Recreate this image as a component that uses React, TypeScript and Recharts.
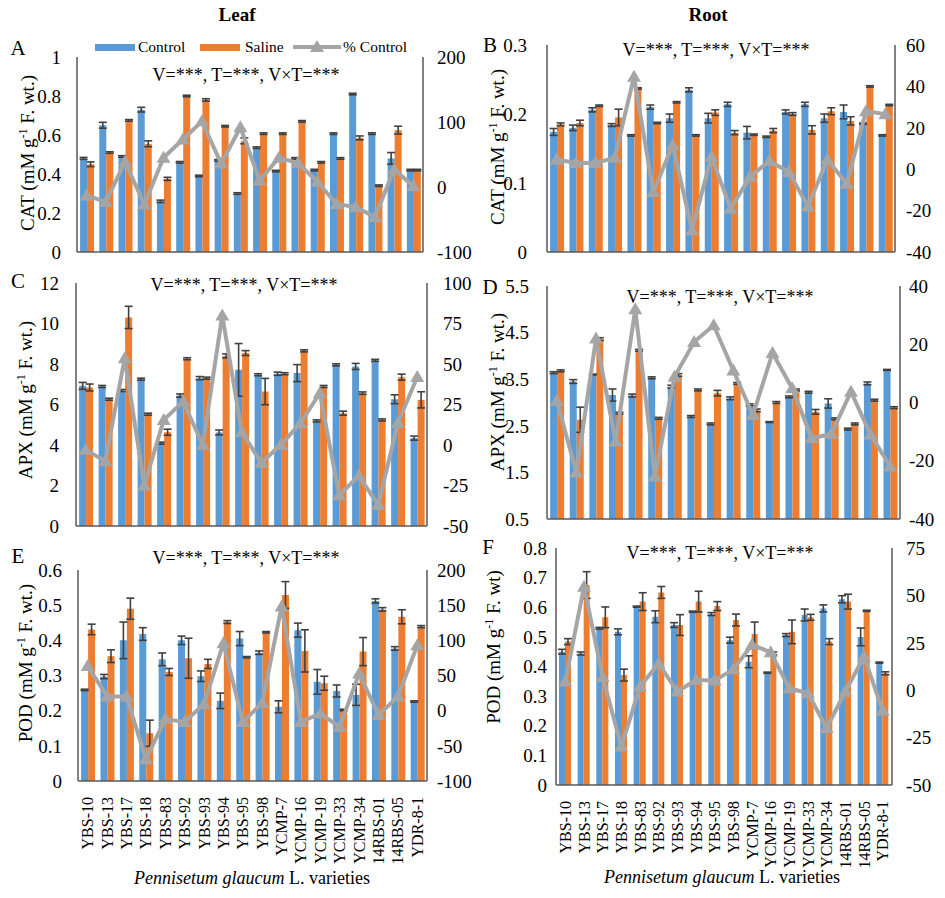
import React from "react";
import { ComposedChart, Bar, Line, XAxis, YAxis, ErrorBar } from "recharts";

const FONT = "'Liberation Serif', 'Times New Roman', serif";
const BLUE = "#5B9BD5";
const ORANGE = "#ED7D31";
const GRAY = "#A5A5A5";
const AXIS = "#595959";

const varieties = [
  "YBS-10", "YBS-13", "YBS-17", "YBS-18", "YBS-83", "YBS-92", "YBS-93", "YBS-94", "YBS-95",
  "YBS-98", "YCMP-7", "YCMP-16", "YCMP-19", "YCMP-33", "YCMP-34", "14RBS-01", "14RBS-05", "YDR-8-1",
];

// A - CAT leaf
const catLeafControl = [0.48, 0.65, 0.49, 0.73, 0.26, 0.46, 0.39, 0.47, 0.3, 0.535, 0.415, 0.48, 0.42, 0.607, 0.81, 0.607, 0.48, 0.42];
const catLeafSaline = [0.45, 0.51, 0.675, 0.555, 0.375, 0.8, 0.78, 0.645, 0.57, 0.607, 0.607, 0.67, 0.46, 0.48, 0.585, 0.34, 0.625, 0.42];
const catLeafControlErr = [0.005, 0.015, 0.004, 0.012, 0.006, 0.004, 0.004, 0.004, 0.004, 0.004, 0.004, 0.004, 0.004, 0.004, 0.004, 0.004, 0.03, 0.004];
const catLeafSalineErr = [0.012, 0.004, 0.004, 0.015, 0.008, 0.004, 0.006, 0.004, 0.015, 0.004, 0.004, 0.004, 0.004, 0.004, 0.01, 0.004, 0.02, 0.004];
const catLeafPct = [-13, -23, 39, -27, 45, 73, 101, 36, 92, 10, 45, 37, 8, -26, -31, -46, 27, 1];

// B - CAT root
const catRootControl = [0.174, 0.18, 0.206, 0.184, 0.169, 0.21, 0.194, 0.235, 0.194, 0.214, 0.173, 0.167, 0.203, 0.214, 0.194, 0.203, 0.186, 0.169];
const catRootSaline = [0.185, 0.187, 0.212, 0.195, 0.237, 0.187, 0.217, 0.169, 0.202, 0.173, 0.17, 0.176, 0.2, 0.177, 0.204, 0.19, 0.24, 0.213];
const catRootControlErr = [0.005, 0.004, 0.003, 0.002, 0.001, 0.003, 0.006, 0.003, 0.007, 0.003, 0.009, 0.001, 0.003, 0.003, 0.006, 0.01, 0.001, 0.001];
const catRootSalineErr = [0.002, 0.004, 0.001, 0.012, 0.001, 0.001, 0.001, 0.001, 0.004, 0.003, 0.001, 0.003, 0.002, 0.006, 0.005, 0.006, 0.001, 0.001];
const catRootPct = [4.7, 3, 3, 5.5, 44.7, -11, 11.6, -29.5, 6, -19, -3.7, 4, -1.3, -18, 4.7, -7, 28, 26.6];

// C - APX leaf
const apxLeafControl = [6.92, 6.89, 6.69, 7.25, 4.09, 6.44, 7.3, 4.62, 7.71, 7.47, 7.52, 7.55, 5.19, 7.96, 7.88, 8.18, 6.26, 4.34];
const apxLeafSaline = [6.84, 6.26, 10.3, 5.52, 4.63, 8.26, 7.3, 8.4, 8.54, 6.64, 7.52, 8.65, 6.89, 5.57, 6.56, 5.24, 7.35, 6.23];
const apxLeafControlErr = [0.17, 0.05, 0.05, 0.05, 0.05, 0.08, 0.08, 0.12, 1.3, 0.05, 0.08, 0.42, 0.05, 0.05, 0.15, 0.05, 0.22, 0.1];
const apxLeafSalineErr = [0.17, 0.05, 0.55, 0.05, 0.15, 0.05, 0.05, 0.1, 0.12, 0.65, 0.05, 0.05, 0.05, 0.1, 0.06, 0.05, 0.15, 0.4];
const apxLeafPct = [-3, -10, 53.6, -25, 15.5, 26.8, 0, 80, 8, -11, 0, 13.4, 32, -31, -19, -37, 13.4, 42];

// D - APX root
const apxRootControl = [3.64, 3.45, 3.6, 3.16, 3.15, 3.53, 3.34, 2.7, 2.54, 3.09, 2.95, 2.58, 3.12, 3.22, 2.98, 2.43, 3.41, 3.7];
const apxRootSaline = [3.68, 2.63, 4.36, 2.77, 4.12, 2.66, 3.59, 3.27, 3.2, 3.41, 2.83, 3.0, 3.27, 2.8, 2.65, 2.54, 3.05, 2.89];
const apxRootControlErr = [0.02, 0.04, 0.01, 0.13, 0.03, 0.02, 0.03, 0.02, 0.02, 0.03, 0.02, 0.01, 0.02, 0.02, 0.1, 0.02, 0.03, 0.01];
const apxRootSalineErr = [0.02, 0.27, 0.03, 0.02, 0.02, 0.02, 0.03, 0.02, 0.06, 0.02, 0.03, 0.02, 0.02, 0.05, 0.02, 0.02, 0.02, 0.02];
const apxRootPct = [0.5, -24, 22, -13.4, 32, -25.4, 8.8, 20.8, 26.5, 11, -4.3, 17, 4.9, -12.3, -10.8, 3.7, -11, -22];

// E - POD leaf
const podLeafControl = [0.259, 0.297, 0.4, 0.418, 0.346, 0.4, 0.298, 0.228, 0.405, 0.365, 0.211, 0.429, 0.282, 0.256, 0.245, 0.512, 0.377, 0.226];
const podLeafSaline = [0.431, 0.355, 0.49, 0.136, 0.31, 0.349, 0.333, 0.452, 0.352, 0.423, 0.529, 0.37, 0.278, 0.202, 0.368, 0.488, 0.467, 0.439];
const podLeafControlErr = [0.002, 0.006, 0.052, 0.018, 0.018, 0.012, 0.015, 0.022, 0.02, 0.005, 0.017, 0.02, 0.035, 0.017, 0.03, 0.006, 0.005, 0.002];
const podLeafSalineErr = [0.015, 0.018, 0.03, 0.037, 0.01, 0.057, 0.013, 0.004, 0.002, 0.002, 0.038, 0.06, 0.02, 0.002, 0.04, 0.005, 0.02, 0.003];
const podLeafPct = [63.5, 20, 20, -69, -12, -16, 9.5, 96, -16, 11, 148, -16, -4, -23, 53, -6, 20, 93];

// F - POD root
const podRootControl = [0.45, 0.444, 0.529, 0.517, 0.602, 0.568, 0.54, 0.585, 0.577, 0.489, 0.416, 0.379, 0.506, 0.574, 0.596, 0.627, 0.5, 0.413];
const podRootSaline = [0.484, 0.675, 0.566, 0.371, 0.619, 0.65, 0.54, 0.619, 0.604, 0.557, 0.51, 0.444, 0.517, 0.566, 0.484, 0.619, 0.588, 0.377];
const podRootControlErr = [0.008, 0.005, 0.003, 0.01, 0.002, 0.02, 0.008, 0.002, 0.005, 0.01, 0.02, 0.002, 0.005, 0.02, 0.012, 0.012, 0.03, 0.002];
const podRootSalineErr = [0.01, 0.045, 0.035, 0.02, 0.03, 0.02, 0.035, 0.035, 0.015, 0.02, 0.04, 0.005, 0.04, 0.01, 0.01, 0.025, 0.002, 0.005];
const podRootPct = [4.6, 54.6, 7, -29.7, 2, 14, -0.7, 5.4, 5.1, 11, 24, 20, 1, -1.6, -20, -0.7, 17.7, -10.7];

function buildRows(control: number[], saline: number[], cErr: number[], sErr: number[], pct: number[]) {
  return varieties.map((name, i) => ({
    name,
    control: control[i],
    saline: saline[i],
    cErr: cErr[i],
    sErr: sErr[i],
    pct: pct[i],
  }));
}

const Triangle = (props: any) => {
  const { cx, cy, index } = props;
  if (cx == null || cy == null) return <g key={index} />;
  return (
    <polygon
      key={index}
      points={`${cx},${cy - 7} ${cx - 7},${cy + 5} ${cx + 7},${cy + 5}`}
      fill={GRAY}
    />
  );
};

const VerticalTick = (props: any) => {
  const { x, y, payload } = props;
  const ty = y + 8;
  return (
    <text
      x={x}
      y={ty}
      transform={`rotate(-90, ${x}, ${ty})`}
      textAnchor="end"
      dominantBaseline="central"
      fontSize={16}
      fontFamily={FONT}
      fill="#000"
    >
      {payload.value}
    </text>
  );
};

interface PanelProps {
  rows: any[];
  x0: number;
  y0: number;
  x1: number;
  y1: number;
  leftDomain: [number, number];
  leftTicks: number[];
  rightDomain: [number, number];
  rightTicks: number[];
  leftGap: number;
  rightGap: number;
  showX?: boolean;
}

function Panel({ rows, x0, y0, x1, y1, leftDomain, leftTicks, rightDomain, rightTicks, leftGap, rightGap, showX }: PanelProps) {
  const WL = 70;
  const WR = 55;
  const MT = 14;
  const hX = showX ? 95 : 14;
  const W = x1 - x0 + WL + WR;
  const H = y1 - y0 + MT + hX;
  const tickStyle = { fontSize: 19, fontFamily: FONT, fill: "#000" };
  return (
    <div style={{ position: "absolute", left: x0 - WL, top: y0 - MT }}>
      <ComposedChart
        width={W}
        height={H}
        data={rows}
        margin={{ top: MT, right: 0, left: 0, bottom: 0 }}
        barCategoryGap="16%"
        barGap={0}
        style={{ fontFamily: FONT }}
      >
        <XAxis
          dataKey="name"
          height={hX}
          interval={0}
          axisLine={{ stroke: AXIS, strokeWidth: 1.5 }}
          tickLine={false}
          tick={showX ? <VerticalTick /> : false}
        />
        <YAxis
          yAxisId="left"
          width={WL}
          domain={leftDomain}
          ticks={leftTicks}
          interval={0}
          allowDataOverflow
          axisLine={{ stroke: AXIS, strokeWidth: 1.5 }}
          tickLine={false}
          tickSize={0}
          tickMargin={leftGap}
          tick={tickStyle}
        />
        <YAxis
          yAxisId="right"
          orientation="right"
          width={WR}
          domain={rightDomain}
          ticks={rightTicks}
          interval={0}
          axisLine={{ stroke: AXIS, strokeWidth: 1.5 }}
          tickLine={false}
          tickSize={0}
          tickMargin={rightGap}
          tick={tickStyle}
        />
        <Bar yAxisId="left" dataKey="control" fill={BLUE} isAnimationActive={false}>
          <ErrorBar dataKey="cErr" width={4} stroke="#404040" strokeWidth={1.6} />
        </Bar>
        <Bar yAxisId="left" dataKey="saline" fill={ORANGE} isAnimationActive={false}>
          <ErrorBar dataKey="sErr" width={4} stroke="#404040" strokeWidth={1.6} />
        </Bar>
        <Line
          yAxisId="right"
          type="linear"
          dataKey="pct"
          stroke={GRAY}
          strokeWidth={4}
          dot={Triangle}
          activeDot={false}
          isAnimationActive={false}
        />
      </ComposedChart>
    </div>
  );
}

const abs = (left: number, top: number, extra: React.CSSProperties = {}): React.CSSProperties => ({
  position: "absolute",
  left,
  top,
  transform: "translate(-50%, -50%)",
  whiteSpace: "nowrap",
  lineHeight: 1,
  ...extra,
});

function YLabel({ x, y, name, dot = true }: { x: number; y: number; name: string; dot?: boolean }) {
  return (
    <div style={{ ...abs(x, y), transform: "translate(-50%, -50%) rotate(-90deg)", fontSize: 19 }}>
      {name} (mM g<sup style={{ fontSize: 12 }}>-1</sup> F. wt{dot ? "." : ""})
    </div>
  );
}

const stats = "V=***,  T=***,  V×T=***";

export default function App() {
  return (
    <div
      style={{
        position: "relative",
        width: 945,
        height: 898,
        margin: -8,
        background: "#fff",
        fontFamily: FONT,
        color: "#000",
        overflow: "hidden",
      }}
    >
      <style>{`svg text { font-family: 'Liberation Serif', 'Times New Roman', serif; }`}</style>
      <div style={{ ...abs(237, 14), fontWeight: "bold", fontSize: 19 }}>Leaf</div>
      <div style={{ ...abs(708, 14), fontWeight: "bold", fontSize: 19 }}>Root</div>

      <Panel
        rows={buildRows(catLeafControl, catLeafSaline, catLeafControlErr, catLeafSalineErr, catLeafPct)}
        x0={77} y0={57} x1={423} y1={252}
        leftDomain={[0, 1]} leftTicks={[0, 0.2, 0.4, 0.6, 0.8, 1]}
        rightDomain={[-100, 200]} rightTicks={[-100, 0, 100, 200]}
        leftGap={16} rightGap={14}
      />
      <Panel
        rows={buildRows(catRootControl, catRootSaline, catRootControlErr, catRootSalineErr, catRootPct)}
        x0={547} y0={45} x1={895} y1={252}
        leftDomain={[0, 0.3]} leftTicks={[0, 0.1, 0.2, 0.3]}
        rightDomain={[-40, 60]} rightTicks={[-40, -20, 0, 20, 40, 60]}
        leftGap={20} rightGap={11}
      />
      <Panel
        rows={buildRows(apxLeafControl, apxLeafSaline, apxLeafControlErr, apxLeafSalineErr, apxLeafPct)}
        x0={76} y0={283} x1={427} y1={526}
        leftDomain={[0, 12]} leftTicks={[0, 2, 4, 6, 8, 10, 12]}
        rightDomain={[-50, 100]} rightTicks={[-50, -25, 0, 25, 50, 75, 100]}
        leftGap={17} rightGap={16}
      />
      <Panel
        rows={buildRows(apxRootControl, apxRootSaline, apxRootControlErr, apxRootSalineErr, apxRootPct)}
        x0={547} y0={286} x1={900} y1={519}
        leftDomain={[0.5, 5.5]} leftTicks={[0.5, 1.5, 2.5, 3.5, 4.5, 5.5]}
        rightDomain={[-40, 40]} rightTicks={[-40, -20, 0, 20, 40]}
        leftGap={18} rightGap={9}
      />
      <Panel
        rows={buildRows(podLeafControl, podLeafSaline, podLeafControlErr, podLeafSalineErr, podLeafPct)}
        x0={78} y0={570} x1={427} y1={781}
        leftDomain={[0, 0.6]} leftTicks={[0, 0.1, 0.2, 0.3, 0.4, 0.5, 0.6]}
        rightDomain={[-100, 200]} rightTicks={[-100, -50, 0, 50, 100, 150, 200]}
        leftGap={16} rightGap={10}
        showX
      />
      <Panel
        rows={buildRows(podRootControl, podRootSaline, podRootControlErr, podRootSalineErr, podRootPct)}
        x0={556} y0={548} x1={892} y1={785}
        leftDomain={[0, 0.8]} leftTicks={[0, 0.1, 0.2, 0.3, 0.4, 0.5, 0.6, 0.7, 0.8]}
        rightDomain={[-50, 75]} rightTicks={[-50, -25, 0, 25, 50, 75]}
        leftGap={9} rightGap={14}
        showX
      />

      {/* panel letters */}
      <div style={{ ...abs(18, 48), fontSize: 21 }}>A</div>
      <div style={{ ...abs(490, 45), fontSize: 21 }}>B</div>
      <div style={{ ...abs(18, 281), fontSize: 21 }}>C</div>
      <div style={{ ...abs(490, 287), fontSize: 21 }}>D</div>
      <div style={{ ...abs(18, 556), fontSize: 21 }}>E</div>
      <div style={{ ...abs(488, 547), fontSize: 21 }}>F</div>

      {/* y labels */}
      <YLabel x={27} y={153} name="CAT" />
      <YLabel x={497} y={147} name="CAT" />
      <YLabel x={25} y={400} name="APX" />
      <YLabel x={497} y={392} name="APX" />
      <YLabel x={25} y={663} name="POD" />
      <YLabel x={493} y={647} name="POD" dot={false} />

      {/* significance */}
      <div style={{ ...abs(246, 75), fontSize: 18 }}>{stats}</div>
      <div style={{ ...abs(716, 50), fontSize: 18 }}>{stats}</div>
      <div style={{ ...abs(244, 285), fontSize: 18 }}>{stats}</div>
      <div style={{ ...abs(720, 297), fontSize: 18 }}>{stats}</div>
      <div style={{ ...abs(246, 558), fontSize: 18 }}>{stats}</div>
      <div style={{ ...abs(720, 553), fontSize: 18 }}>{stats}</div>

      {/* legend */}
      <div style={{ position: "absolute", left: 95, top: 44, width: 40, height: 7, background: BLUE }} />
      <div style={{ ...abs(138, 47), transform: "translate(0, -50%)", fontSize: 15.5 }}>Control</div>
      <div style={{ position: "absolute", left: 200, top: 44, width: 40, height: 7, background: ORANGE }} />
      <div style={{ ...abs(245, 47), transform: "translate(0, -50%)", fontSize: 15.5 }}>Saline</div>
      <svg style={{ position: "absolute", left: 293, top: 38 }} width={48} height={18}>
        <line x1={0} y1={9} x2={48} y2={9} stroke={GRAY} strokeWidth={4} />
        <polygon points="24,2 17,14 31,14" fill={GRAY} />
      </svg>
      <div style={{ ...abs(343, 47), transform: "translate(0, -50%)", fontSize: 15.5 }}>% Control</div>

      {/* x titles */}
      <div style={{ ...abs(252, 878), fontSize: 18 }}>
        <i>Pennisetum glaucum</i> L. varieties
      </div>
      <div style={{ ...abs(722, 877), fontSize: 18 }}>
        <i>Pennisetum glaucum</i> L. varieties
      </div>

      <div
        style={{
          position: "absolute",
          inset: 0,
          border: "2px solid #333",
          pointerEvents: "none",
        }}
      />
    </div>
  );
}
